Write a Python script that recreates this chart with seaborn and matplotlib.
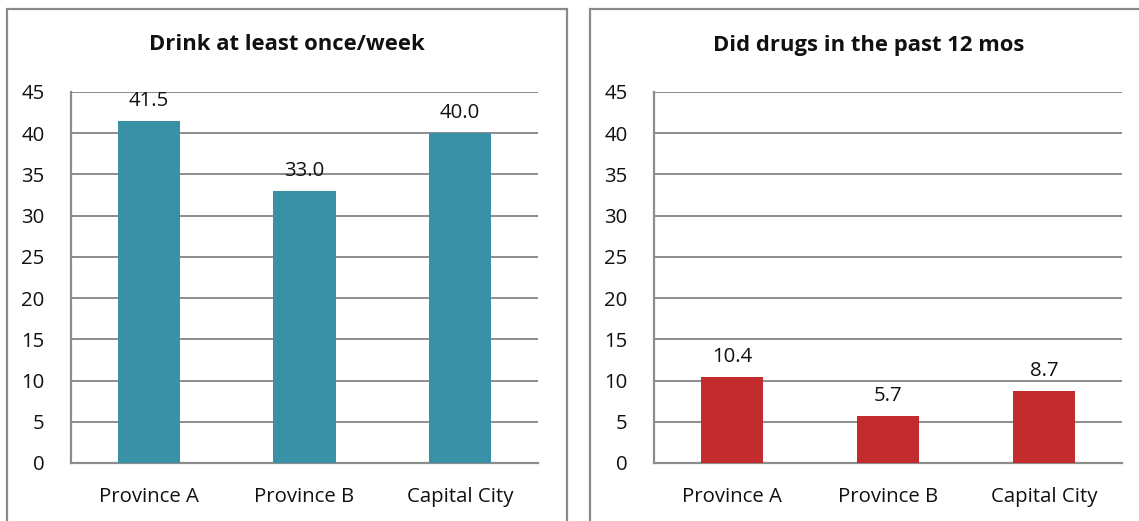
import matplotlib
matplotlib.use("Agg")
import matplotlib.pyplot as plt
from matplotlib.patches import Rectangle
import seaborn as sns
import pandas as pd

categories = ["Province A", "Province B", "Capital City"]
drink_values = [41.5, 33.0, 40.0]
drug_values = [10.4, 5.7, 8.7]
titles = ["Drink at least once/week", "Did drugs in the past 12 mos"]
y_ticks = [0, 5, 10, 15, 20, 25, 30, 35, 40, 45]

sns.set_theme(style="white")
plt.rcParams["font.family"] = ["Open Sans", "DejaVu Sans"]

W, H = 1139, 521
fig = plt.figure(figsize=(W / 100, H / 100), dpi=100)
fig.patch.set_facecolor("white")

grey = "#8c8c8c"
text_color = "#111111"
label_size = 14.7


def px_rect(x0, y0, x1, y1):
    """Convert pixel box (top-left origin) to figure fraction [l, b, w, h]."""
    return [x0 / W, 1 - y1 / H, (x1 - x0) / W, (y1 - y0) / H]


panels = [
    dict(box=(6.5, 9, 566.5, 540), axes=(71, 92, 538, 463),
         values=drink_values, color="#3891A6", title=titles[0]),
    dict(box=(589.5, 9, 1150, 540), axes=(654, 92, 1122, 463),
         values=drug_values, color="#C32C2F", title=titles[1]),
]

for p in panels:
    bx0, by0, bx1, by1 = p["box"]
    fig.patches.append(Rectangle((bx0 / W, 1 - by1 / H), (bx1 - bx0) / W, (by1 - by0) / H,
                                 transform=fig.transFigure, fill=False,
                                 edgecolor="#8a8a8a", linewidth=1.6, zorder=0))

    ax = fig.add_axes(px_rect(*p["axes"]))
    df = pd.DataFrame({"category": categories, "value": p["values"]})
    sns.barplot(data=df, x="category", y="value", ax=ax, color=p["color"],
                saturation=1, width=0.4, edgecolor="none", zorder=3)

    ax.set_ylim(0, 45)
    ax.set_xlim(-0.5, 2.5)
    ax.set_yticks(y_ticks)
    ax.set_yticklabels([str(t) for t in y_ticks], fontsize=label_size, color=text_color)
    ax.set_xticks([0, 1, 2])
    ax.set_xticklabels(categories, fontsize=label_size, color=text_color)
    ax.set_xticks([-0.5, 0.5, 1.5, 2.5], minor=True)
    ax.tick_params(axis="x", which="major", length=0, pad=17)
    ax.tick_params(axis="x", which="minor", length=6, width=1.6, color=grey, direction="out")
    ax.tick_params(axis="y", which="major", length=8, width=1.6, color=grey, direction="out", pad=11)
    ax.set_xlabel("")
    ax.set_ylabel("")
    ax.grid(axis="y", color=grey, linewidth=1.4, zorder=0)
    ax.set_axisbelow(True)
    for side in ["top", "right"]:
        ax.spines[side].set_visible(False)
    for side in ["left", "bottom"]:
        ax.spines[side].set_color(grey)
        ax.spines[side].set_linewidth(1.6)

    for i, v in enumerate(p["values"]):
        ax.annotate(f"{v:.1f}", xy=(i, v), xytext=(0, 11), textcoords="offset points",
                    ha="center", va="baseline", fontsize=label_size, color=text_color)

    # chart title, centred over the visible part of its panel
    cx = (bx0 + min(bx1, 1147)) / 2
    fig.text(cx / W, 1 - 45 / H, p["title"], ha="center", va="center",
             fontsize=15.8, fontweight="bold", color=text_color)

fig.savefig("out.png", dpi=100, facecolor="white")
